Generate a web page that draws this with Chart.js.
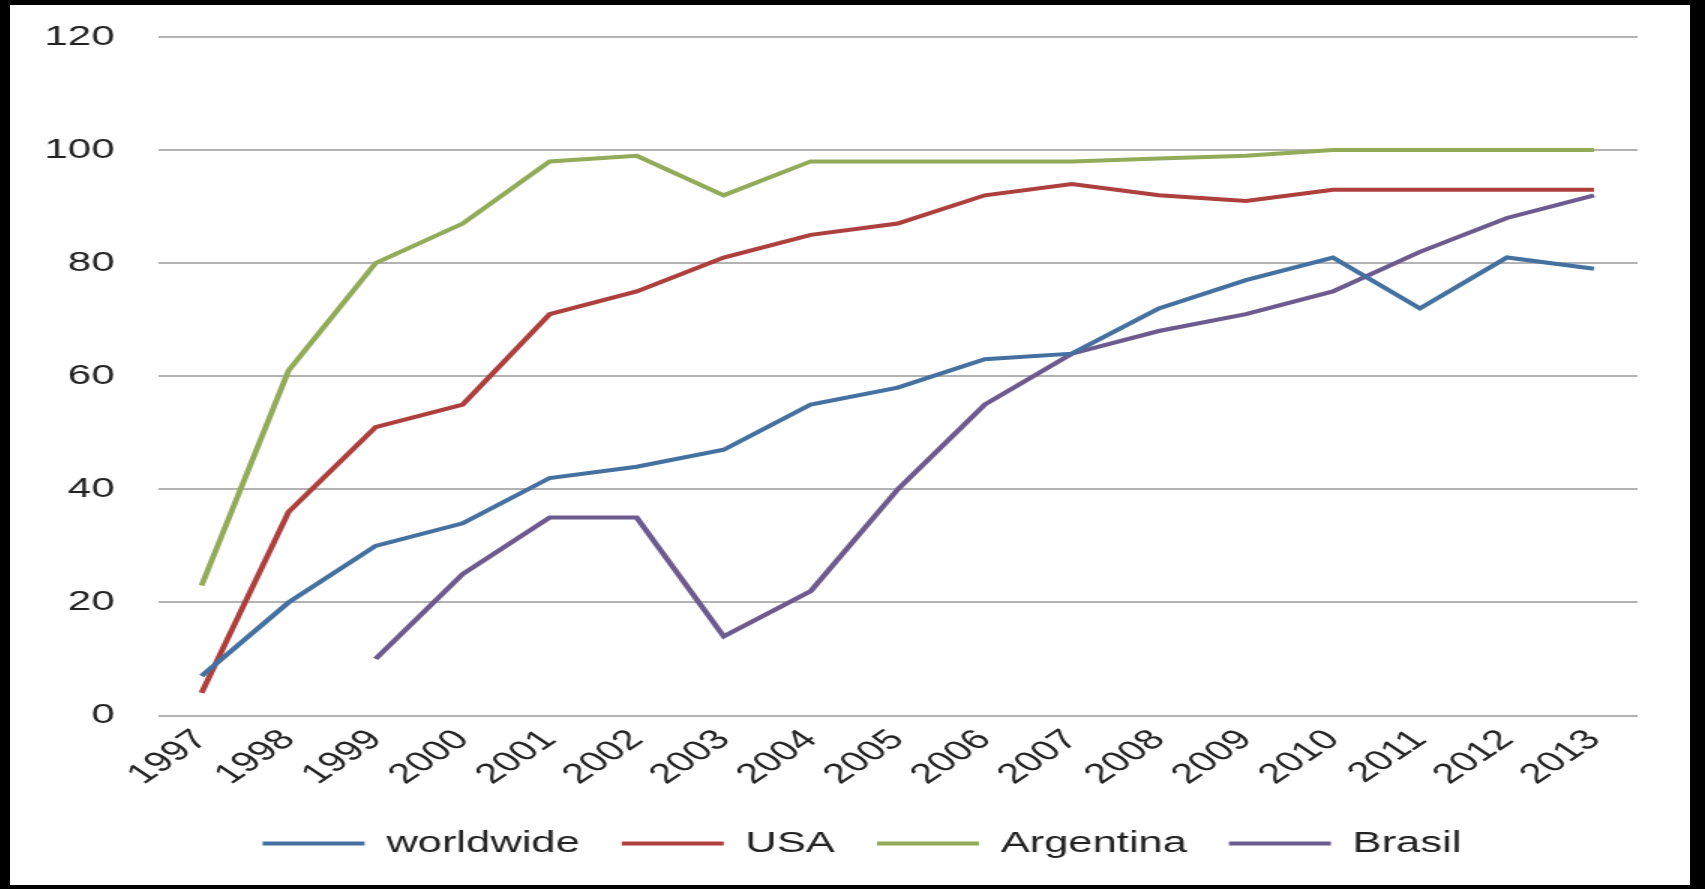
<!DOCTYPE html>
<html>
<head>
<meta charset="utf-8">
<script src="https://cdn.jsdelivr.net/npm/chart.js@4/dist/chart.umd.min.js"></script>
<style>
    html, body { margin: 0; padding: 0; background: #000; }
    #frame {
        position: absolute; left: 10px; top: 5px;
        width: 1680px; height: 880px; background: #fff; overflow: hidden;
    }
    /* the original picture is stretched sideways, so the chart is drawn narrow and widened */
    #box {
        width: 1120px; height: 880px;
        transform: scaleX(1.5); transform-origin: 0 0;
    }
</style>
</head>
<body>
<div id="frame"><div id="box"><canvas id="usageChart"></canvas></div></div>
<script>
const years = ['1997', '1998', '1999', '2000', '2001', '2002', '2003', '2004', '2005',
    '2006', '2007', '2008', '2009', '2010', '2011', '2012', '2013'];

const worldwide = [7, 20, 30, 34, 42, 44, 47, 55, 58, 63, 64, 72, 77, 81, 72, 81, 79];
const usa = [4, 36, 51, 55, 71, 75, 81, 85, 87, 92, 94, 92, 91, 93, 93, 93, 93];
const argentina = [23, 61, 80, 87, 98, 99, 92, 98, 98, 98, 98, 98.5, 99, 100, 100, 100, 100];
const brasil = [null, null, 10, 25, 35, 35, 14, 22, 40, 55, 64, 68, 71, 75, 82, 88, 92];

const yTicks = [0, 20, 40, 60, 80, 100, 120];

const FONT = "'Liberation Sans', Arial, sans-serif";
const TEXT = '#222';

function line(label, data, color) {
    return {
        label, data,
        borderColor: color, backgroundColor: color,
        borderWidth: 4, pointRadius: 0, tension: 0,
        spanGaps: false
    };
}

// keep the legend centred on the whole picture, not on the area right of the y labels
const legendSpan = {
    id: 'legendSpan',
    afterLayout(chart) {
        chart.legend.left = 50;
        chart.legend.right = 1086;
    }
};

new Chart(document.getElementById('usageChart'), {
    type: 'line',
    data: {
        labels: years,
        datasets: [
            line('worldwide', worldwide, '#44719f'),
            line('USA', usa, '#ad3f3d'),
            line('Argentina', argentina, '#91ab59'),
            line('Brasil', brasil, '#6c5b8e')
        ]
    },
    plugins: [legendSpan],
    options: {
        responsive: true,
        maintainAspectRatio: false,
        animation: false,
        events: [],
        layout: { padding: { left: 12, right: 35, top: 32, bottom: 17 } },
        plugins: {
            tooltip: { enabled: false },
            legend: {
                position: 'bottom',
                labels: {
                    usePointStyle: true,
                    pointStyle: 'line',
                    pointStyleWidth: 68,
                    padding: 28,
                    color: TEXT,
                    font: { family: FONT, size: 29 }
                }
            }
        },
        scales: {
            x: {
                offset: true,
                grid: { display: false, drawTicks: false },
                border: { display: false },
                ticks: {
                    color: TEXT,
                    font: { family: FONT, size: 28 },
                    minRotation: 45, maxRotation: 45,
                    padding: 8,
                    autoSkip: false
                },
                afterFit: s => { s.height = 85.5; }
            },
            y: {
                min: 0, max: 120,
                afterBuildTicks: s => { s.ticks = yTicks.map(v => ({ value: v })); },
                grid: {
                    color: '#b3b3b3', lineWidth: 2,
                    drawTicks: true, tickLength: 29, tickColor: 'rgba(0,0,0,0)'
                },
                border: { display: false },
                ticks: {
                    color: TEXT,
                    font: { family: FONT, size: 28 },
                    padding: 0
                },
                afterFit: s => { s.width = 86.7; }
            }
        }
    }
});
</script>
</body>
</html>
